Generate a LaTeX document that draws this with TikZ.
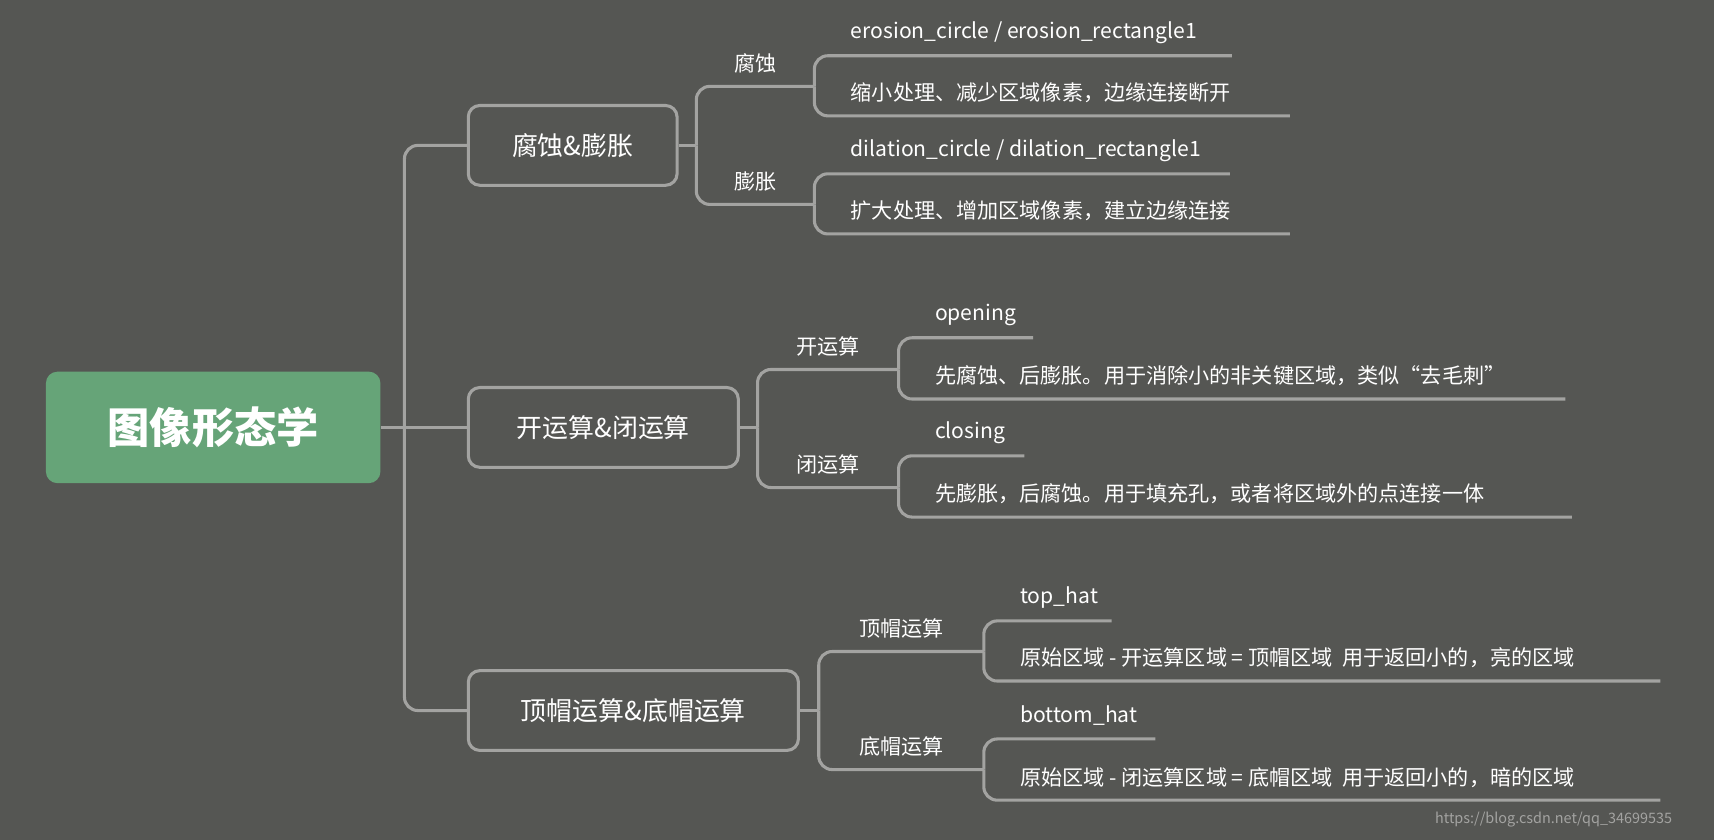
\documentclass[tikz,border=0pt]{standalone}
\usepackage{fontspec}
\setmainfont{Noto Sans CJK SC}
\usetikzlibrary{positioning}
\definecolor{bg}{HTML}{555653}
\definecolor{ln}{HTML}{A3A3A1}
\definecolor{gr}{HTML}{66A478}
\begin{document}
\begin{tikzpicture}[x=0.02cm,y=-0.02cm,
  ln/.style={draw=ln,line width=1.6pt,rounded corners=7pt},
  box/.style={draw=ln,line width=1.6pt,rounded corners=6pt,text=white,font=\fontsize{13.5}{16}\selectfont,inner sep=0pt,anchor=west},
  lab/.style={text=white,font=\fontsize{11}{13}\selectfont,inner sep=0pt},
  leaf/.style={text=white,font=\fontsize{11}{13}\selectfont,inner sep=0pt,anchor=west}]
\fill[bg] (0,0) rectangle (1568,768);
\node[fill=gr,rounded corners=6pt,minimum width=306*0.02cm,minimum height=102*0.02cm,text=white,font=\bfseries\fontsize{22}{26}\selectfont] (root) at (195,391) {图像形态学};
\node[box,minimum width=191*0.02cm,minimum height=73*0.02cm] (b1) at (427,133) {};
\node[text=white,font=\fontsize{13.5}{16}\selectfont] at (b1.center) {腐蚀\&膨胀};
\node[box,minimum width=247*0.02cm,minimum height=73*0.02cm] (b2) at (427,391) {};
\node[text=white,font=\fontsize{13.5}{16}\selectfont] at (b2.center) {开运算\&闭运算};
\node[box,minimum width=302*0.02cm,minimum height=73*0.02cm] (b3) at (427,650) {};
\node[text=white,font=\fontsize{13.5}{16}\selectfont] at (b3.center) {顶帽运算\&底帽运算};
% root branches
\coordinate (j0) at (370,391);
\draw[ln] (root.east) -- (j0);
\draw[ln] (j0) |- (b1.west);
\draw[ln] (j0) -- (b2.west);
\draw[ln] (j0) |- (b3.west);
% generic branch macro
\newcommand{\branch}[9]{%
 % #1 box, #2 jx, #3 ya, #4 yb, #5 bx, #6 labA, #7 labB
 \coordinate (J) at (#2,#9);
 \draw[ln] (#1.east) -- (J);
 \draw[ln] (J) |- (#5,#3);
 \draw[ln] (J) |- (#5,#4);
 \node[lab] at ({(#2+#5)/2},#3-21) {#6};
 \node[lab] at ({(#2+#5)/2},#4-21) {#7};
 \coordinate (#8a) at (#5,#3);
 \coordinate (#8b) at (#5,#4);
}
\newcommand{\leaves}[7]{%
 % #1 start coord, #2 y top, #3 end1, #4 text1, #5 y bot, #6 end2, #7 text2
 \draw[ln] (#1) |- (#3,#2);
 \draw[ln] (#1) |- (#6,#5);
 \path (#1) ++(33,0) coordinate (T);
 \node[leaf] at (T |- 0,#2-21) {#4};
 \node[leaf] at (T |- 0,#5-21) {#7};
}
\branch{b1}{637}{79}{187}{745}{腐蚀}{膨胀}{p}{133}
\leaves{pa}{51}{1127}{erosion\_circle / erosion\_rectangle1}{106}{1180}{缩小处理、减少区域像素，边缘连接断开}
\leaves{pb}{159}{1125}{dilation\_circle / dilation\_rectangle1}{214}{1180}{扩大处理、增加区域像素，建立边缘连接}
\branch{b2}{693}{338}{446}{822}{开运算}{闭运算}{q}{391}
\leaves{qa}{309}{945}{opening}{365}{1432}{先腐蚀、后膨胀。用于消除小的非关键区域，类似“去毛刺”}
\leaves{qb}{417}{937}{closing}{473}{1438}{先膨胀，后腐蚀。用于填充孔，或者将区域外的点连接一体}
\branch{b3}{749}{596}{704}{900}{顶帽运算}{底帽运算}{r}{650}
\leaves{ra}{568}{1017}{top\_hat}{623}{1519}{原始区域 - 开运算区域 = 顶帽区域\ \ 用于返回小的，亮的区域}
\leaves{rb}{676}{1057}{bottom\_hat}{732}{1519}{原始区域 - 闭运算区域 = 底帽区域\ \ 用于返回小的，暗的区域}
\node[text=ln,font=\fontsize{7.5}{9}\selectfont,anchor=east,inner sep=0pt] (wm) at (1530,750) {https://blog.csdn.net/qq\_34699535};
\end{tikzpicture}
\end{document}
